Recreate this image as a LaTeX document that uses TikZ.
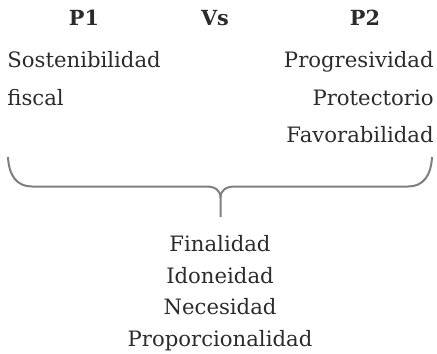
\documentclass[tikz,border=0pt]{standalone}
\usepackage{fontspec}
\setmainfont{DejaVu Serif}
\usepackage{tikz}
\usetikzlibrary{positioning}
\definecolor{txt}{HTML}{2B2B2B}
\definecolor{brc}{HTML}{7F7F7F}

\begin{document}
\begin{tikzpicture}[x=0.5pt, y=-0.5pt, font=\fontsize{10.6}{12}\selectfont, text=txt,
   head/.style={anchor=base, font=\fontsize{10.4}{12}\selectfont\bfseries},
   left item/.style={anchor=base west, inner sep=0pt},
   right item/.style={anchor=base east, inner sep=0pt},
   test item/.style={anchor=base, inner sep=0pt}]
   \useasboundingbox (0,0) rectangle (437,353);
   % titles
   \node[head] (p1) at (84,26) {P1};
   \node[head] (vs) at (215,26) {Vs};
   \node[head] (p2) at (365,26) {P2};
   % first principle
   \node[left item] (sost) at (7,68) {Sostenibilidad};
   \node[left item] (fisc) at (7,105) {fiscal};
   % second principle
   \node[right item] (prog) at (434,68) {Progresividad};
   \node[right item] (prot) at (434,105) {Protectorio};
   \node[right item] (fav) at (434,142) {Favorabilidad};
   % brace
   \coordinate (bl) at (8,157);
   \coordinate (br) at (432,157);
   \coordinate (tip) at (220.5,217);
   \draw[brc, line width=1pt]
      (bl) .. controls (9,176) and (17,186.5) .. (32,186.5) -- (206,186.5)
      .. controls (215,186.5) and (220.5,190) .. (220.5,198) -- (tip);
   \draw[brc, line width=1pt]
      (br) .. controls (431,176) and (423,186.5) .. (408,186.5) -- (235,186.5)
      .. controls (226,186.5) and (220.5,190) .. (220.5,198);
   % test
   \begin{scope}[every node/.style={test item}]
    \node (fin) at (220,251) {Finalidad};
    \node (ido) at (220,283) {Idoneidad};
    \node (nec) at (220,314) {Necesidad};
    \node (prop) at (220,346) {Proporcionalidad};
   \end{scope}
\end{tikzpicture}
\end{document}
